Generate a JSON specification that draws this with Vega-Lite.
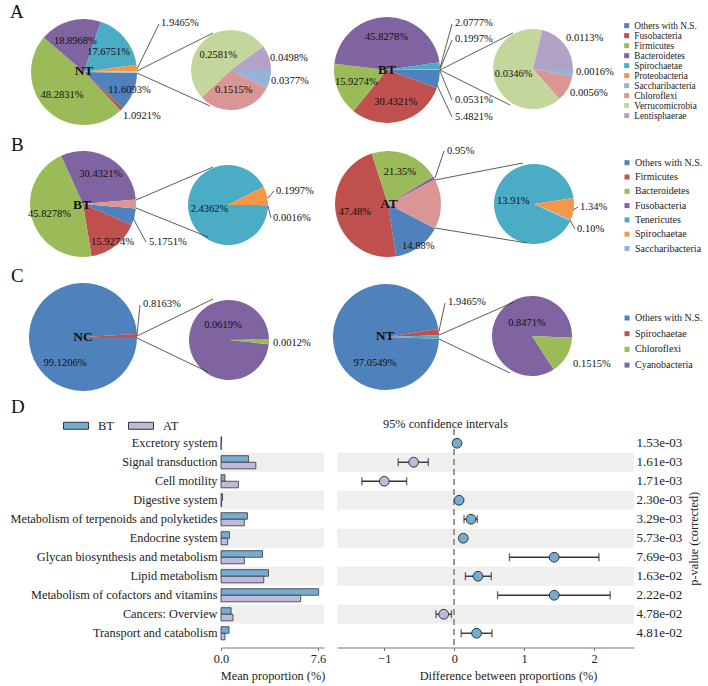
{
"$schema":"https://vega.github.io/schema/vega-lite/v6.json",
"padding":{"left":10,"top":0,"right":0,"bottom":0},
"background":"white",
"config":{"font":"Liberation Serif","view":{"stroke":null},"legend":{"labelFont":"Liberation Serif"}},
"datasets":{
"pies":[
{"pie":"A-NT","panel":"A","sample":"NT","taxon":"Others with N.S.","value":11.6093,"label":"11.6093%","k":0},
{"pie":"A-NT","panel":"A","sample":"NT","taxon":"Fusobacteria","value":1.0921,"label":"1.0921%","k":1},
{"pie":"A-NT","panel":"A","sample":"NT","taxon":"Firmicutes","value":48.2831,"label":"48.2831%","k":2},
{"pie":"A-NT","panel":"A","sample":"NT","taxon":"Bacteroidetes","value":18.8968,"label":"18.8968%","k":3},
{"pie":"A-NT","panel":"A","sample":"NT","taxon":"Spirochaetae","value":17.6751,"label":"17.6751%","k":4},
{"pie":"A-NT","panel":"A","sample":"NT","taxon":"Proteobacteria","value":1.9465,"label":"1.9465%","k":5},
{"pie":"A-NT","panel":"A","sample":"NT","taxon":"Other","value":0.4971,"label":"","k":6},
{"pie":"A-NT-sub","panel":"A","sample":"NT","taxon":"Saccharibacteria","value":0.0377,"label":"0.0377%","k":0},
{"pie":"A-NT-sub","panel":"A","sample":"NT","taxon":"Chloroflexi","value":0.1515,"label":"0.1515%","k":1},
{"pie":"A-NT-sub","panel":"A","sample":"NT","taxon":"Verrucomicrobia","value":0.2581,"label":"0.2581%","k":2},
{"pie":"A-NT-sub","panel":"A","sample":"NT","taxon":"Lentisphaerae","value":0.0498,"label":"0.0498%","k":3},
{"pie":"A-BT","panel":"A","sample":"BT","taxon":"Others with N.S.","value":5.4821,"label":"5.4821%","k":0},
{"pie":"A-BT","panel":"A","sample":"BT","taxon":"Fusobacteria","value":30.4321,"label":"30.4321%","k":1},
{"pie":"A-BT","panel":"A","sample":"BT","taxon":"Firmicutes","value":15.9274,"label":"15.9274%","k":2},
{"pie":"A-BT","panel":"A","sample":"BT","taxon":"Bacteroidetes","value":45.8278,"label":"45.8278%","k":3},
{"pie":"A-BT","panel":"A","sample":"BT","taxon":"Spirochaetae","value":2.0777,"label":"2.0777%","k":4},
{"pie":"A-BT","panel":"A","sample":"BT","taxon":"Proteobacteria","value":0.1997,"label":"0.1997%","k":5},
{"pie":"A-BT","panel":"A","sample":"BT","taxon":"Other","value":0.0531,"label":"0.0531%","k":6},
{"pie":"A-BT-sub","panel":"A","sample":"BT","taxon":"Saccharibacteria","value":0.0016,"label":"0.0016%","k":0},
{"pie":"A-BT-sub","panel":"A","sample":"BT","taxon":"Chloroflexi","value":0.0056,"label":"0.0056%","k":1},
{"pie":"A-BT-sub","panel":"A","sample":"BT","taxon":"Verrucomicrobia","value":0.0346,"label":"0.0346%","k":2},
{"pie":"A-BT-sub","panel":"A","sample":"BT","taxon":"Lentisphaerae","value":0.0113,"label":"0.0113%","k":3},
{"pie":"B-BT","panel":"B","sample":"BT","taxon":"Others with N.S.","value":5.1751,"label":"5.1751%","k":0},
{"pie":"B-BT","panel":"B","sample":"BT","taxon":"Firmicutes","value":15.9274,"label":"15.9274%","k":1},
{"pie":"B-BT","panel":"B","sample":"BT","taxon":"Bacteroidetes","value":45.8278,"label":"45.8278%","k":2},
{"pie":"B-BT","panel":"B","sample":"BT","taxon":"Fusobacteria","value":30.4321,"label":"30.4321%","k":3},
{"pie":"B-BT","panel":"B","sample":"BT","taxon":"Other","value":2.6375,"label":"","k":4},
{"pie":"B-BT-sub","panel":"B","sample":"BT","taxon":"Tenericutes","value":2.4362,"label":"2.4362%","k":0},
{"pie":"B-BT-sub","panel":"B","sample":"BT","taxon":"Spirochaetae","value":0.1997,"label":"0.1997%","k":1},
{"pie":"B-BT-sub","panel":"B","sample":"BT","taxon":"Saccharibacteria","value":0.0016,"label":"0.0016%","k":2},
{"pie":"B-AT","panel":"B","sample":"AT","taxon":"Others with N.S.","value":14.88,"label":"14.88%","k":0},
{"pie":"B-AT","panel":"B","sample":"AT","taxon":"Firmicutes","value":47.48,"label":"47.48%","k":1},
{"pie":"B-AT","panel":"B","sample":"AT","taxon":"Bacteroidetes","value":21.35,"label":"21.35%","k":2},
{"pie":"B-AT","panel":"B","sample":"AT","taxon":"Fusobacteria","value":0.95,"label":"0.95%","k":3},
{"pie":"B-AT","panel":"B","sample":"AT","taxon":"Other","value":15.35,"label":"","k":4},
{"pie":"B-AT-sub","panel":"B","sample":"AT","taxon":"Tenericutes","value":13.91,"label":"13.91%","k":0},
{"pie":"B-AT-sub","panel":"B","sample":"AT","taxon":"Spirochaetae","value":1.34,"label":"1.34%","k":1},
{"pie":"B-AT-sub","panel":"B","sample":"AT","taxon":"Saccharibacteria","value":0.10,"label":"0.10%","k":2},
{"pie":"C-NC","panel":"C","sample":"NC","taxon":"Others with N.S.","value":99.1206,"label":"99.1206%","k":0},
{"pie":"C-NC","panel":"C","sample":"NC","taxon":"Spirochaetae","value":0.8163,"label":"0.8163%","k":1},
{"pie":"C-NC","panel":"C","sample":"NC","taxon":"Other","value":0.0631,"label":"","k":2},
{"pie":"C-NC-sub","panel":"C","sample":"NC","taxon":"Cyanobacteria","value":0.0619,"label":"0.0619%","k":0},
{"pie":"C-NC-sub","panel":"C","sample":"NC","taxon":"Chloroflexi","value":0.0012,"label":"0.0012%","k":1},
{"pie":"C-NT","panel":"C","sample":"NT","taxon":"Others with N.S.","value":97.0549,"label":"97.0549%","k":0},
{"pie":"C-NT","panel":"C","sample":"NT","taxon":"Spirochaetae","value":1.9465,"label":"1.9465%","k":1},
{"pie":"C-NT","panel":"C","sample":"NT","taxon":"Other","value":0.9986,"label":"","k":2},
{"pie":"C-NT-sub","panel":"C","sample":"NT","taxon":"Cyanobacteria","value":0.8471,"label":"0.8471%","k":0},
{"pie":"C-NT-sub","panel":"C","sample":"NT","taxon":"Chloroflexi","value":0.1515,"label":"0.1515%","k":1}
],
"paths":[
{"pathway":"Excretory system","BT":0.05,"AT":0.01,"diff":0.04,"lo":0.02,"hi":0.06,"p":"1.53e-03","i":0},
{"pathway":"Signal transduction","BT":2.15,"AT":2.73,"diff":-0.58,"lo":-0.8,"hi":-0.37,"p":"1.61e-03","i":1},
{"pathway":"Cell motility","BT":0.31,"AT":1.36,"diff":-1.0,"lo":-1.32,"hi":-0.68,"p":"1.71e-03","i":2},
{"pathway":"Digestive system","BT":0.12,"AT":0.05,"diff":0.07,"lo":0.05,"hi":0.09,"p":"2.30e-03","i":3},
{"pathway":"Metabolism of terpenoids and polyketides","BT":2.07,"AT":1.83,"diff":0.24,"lo":0.14,"hi":0.33,"p":"3.29e-03","i":4},
{"pathway":"Endocrine system","BT":0.66,"AT":0.52,"diff":0.13,"lo":0.09,"hi":0.17,"p":"5.73e-03","i":5},
{"pathway":"Glycan biosynthesis and metabolism","BT":3.25,"AT":1.83,"diff":1.43,"lo":0.79,"hi":2.07,"p":"7.69e-03","i":6},
{"pathway":"Lipid metabolism","BT":3.72,"AT":3.35,"diff":0.34,"lo":0.16,"hi":0.53,"p":"1.63e-02","i":7},
{"pathway":"Metabolism of cofactors and vitamins","BT":7.65,"AT":6.24,"diff":1.43,"lo":0.62,"hi":2.23,"p":"2.22e-02","i":8},
{"pathway":"Cancers: Overview","BT":0.79,"AT":0.94,"diff":-0.15,"lo":-0.26,"hi":-0.04,"p":"4.78e-02","i":9},
{"pathway":"Transport and catabolism","BT":0.63,"AT":0.31,"diff":0.32,"lo":0.1,"hi":0.54,"p":"4.81e-02","i":10}
]
},
"spacing":0,
"vconcat":[
{
"width":487,"height":414,
"data":{"name":"pies"},
"resolve":{"scale":{"theta":"independent","color":"independent"},"legend":{"color":"independent"}},
"layer":[
{"transform":[{"filter":"datum.pie=='A-NT'"}],"mark":{"type":"arc","outerRadius":53},"encoding":{"x":{"datum":84,"type":"quantitative","axis":null,"scale":{"domain":[221,708],"nice":false,"zero":false}},"y":{"datum":72,"type":"quantitative","axis":null,"scale":{"domain":[414,0],"nice":false,"zero":false}},"theta":{"field":"value","type":"quantitative","stack":true,"scale":{"range":[1.5865,7.8697]}},"order":{"field":"k","type":"quantitative"},"color":{"field":"taxon","type":"nominal","scale":{"domain":["Others with N.S.","Fusobacteria","Firmicutes","Bacteroidetes","Spirochaetae","Proteobacteria","Saccharibacteria","Chloroflexi","Verrucomicrobia","Lentisphaerae","Other"],"range":["#4F81BD","#C0504D","#9BBB59","#8064A2","#4BACC6","#F79646","#95B3D7","#D99694","#C3D69B","#B3A2C7","#93CDDD"]},"legend":{"orient":"none","legendX":401,"legendY":21,"title":null,"values":["Others with N.S.","Fusobacteria","Firmicutes","Bacteroidetes","Spirochaetae","Proteobacteria","Saccharibacteria","Chloroflexi","Verrucomicrobia","Lentisphaerae"],"symbolType":"square","symbolSize":25,"symbolStrokeWidth":0,"labelFont":"Liberation Serif","labelFontSize":9.3,"labelColor":"#222","rowPadding":0,"labelOffset":3,"padding":0}}}},
{"transform":[{"filter":"datum.pie=='A-NT-sub'"}],"mark":{"type":"arc","outerRadius":40},"encoding":{"x":{"datum":231,"type":"quantitative","axis":null},"y":{"datum":70,"type":"quantitative","axis":null},"theta":{"field":"value","type":"quantitative","stack":true,"scale":{"range":[1.5708,7.8540]}},"order":{"field":"k","type":"quantitative"},"color":{"field":"taxon","type":"nominal","scale":{"domain":["Others with N.S.","Fusobacteria","Firmicutes","Bacteroidetes","Spirochaetae","Proteobacteria","Saccharibacteria","Chloroflexi","Verrucomicrobia","Lentisphaerae","Other"],"range":["#4F81BD","#C0504D","#9BBB59","#8064A2","#4BACC6","#F79646","#95B3D7","#D99694","#C3D69B","#B3A2C7","#93CDDD"]},"legend":null}}},
{"transform":[{"filter":"datum.pie=='A-BT'"}],"mark":{"type":"arc","outerRadius":53},"encoding":{"x":{"datum":387,"type":"quantitative","axis":null},"y":{"datum":70,"type":"quantitative","axis":null},"theta":{"field":"value","type":"quantitative","stack":true,"scale":{"range":[1.5725,7.8557]}},"order":{"field":"k","type":"quantitative"},"color":{"field":"taxon","type":"nominal","scale":{"domain":["Others with N.S.","Fusobacteria","Firmicutes","Bacteroidetes","Spirochaetae","Proteobacteria","Saccharibacteria","Chloroflexi","Verrucomicrobia","Lentisphaerae","Other"],"range":["#4F81BD","#C0504D","#9BBB59","#8064A2","#4BACC6","#F79646","#95B3D7","#D99694","#C3D69B","#B3A2C7","#93CDDD"]},"legend":null}}},
{"transform":[{"filter":"datum.pie=='A-BT-sub'"}],"mark":{"type":"arc","outerRadius":40},"encoding":{"x":{"datum":533,"type":"quantitative","axis":null},"y":{"datum":69,"type":"quantitative","axis":null},"theta":{"field":"value","type":"quantitative","stack":true,"scale":{"range":[1.5708,7.8540]}},"order":{"field":"k","type":"quantitative"},"color":{"field":"taxon","type":"nominal","scale":{"domain":["Others with N.S.","Fusobacteria","Firmicutes","Bacteroidetes","Spirochaetae","Proteobacteria","Saccharibacteria","Chloroflexi","Verrucomicrobia","Lentisphaerae","Other"],"range":["#4F81BD","#C0504D","#9BBB59","#8064A2","#4BACC6","#F79646","#95B3D7","#D99694","#C3D69B","#B3A2C7","#93CDDD"]},"legend":null}}},
{"transform":[{"filter":"datum.pie=='B-BT'"}],"mark":{"type":"arc","outerRadius":53},"encoding":{"x":{"datum":83,"type":"quantitative","axis":null},"y":{"datum":204,"type":"quantitative","axis":null},"theta":{"field":"value","type":"quantitative","stack":true,"scale":{"range":[1.6537,7.9369]}},"order":{"field":"k","type":"quantitative"},"color":{"field":"taxon","type":"nominal","scale":{"domain":["Others with N.S.","Firmicutes","Bacteroidetes","Fusobacteria","Tenericutes","Spirochaetae","Saccharibacteria","Other"],"range":["#4F81BD","#C0504D","#9BBB59","#8064A2","#4BACC6","#F79646","#95B3D7","#D99694"]},"legend":{"orient":"none","legendX":401,"legendY":157.7,"title":null,"values":["Others with N.S.","Firmicutes","Bacteroidetes","Fusobacteria","Tenericutes","Spirochaetae","Saccharibacteria"],"symbolType":"square","symbolSize":25,"symbolStrokeWidth":0,"labelFont":"Liberation Serif","labelFontSize":10,"labelColor":"#222","rowPadding":4.3,"labelOffset":3,"padding":0}}}},
{"transform":[{"filter":"datum.pie=='B-BT-sub'"}],"mark":{"type":"arc","outerRadius":40},"encoding":{"x":{"datum":228,"type":"quantitative","axis":null},"y":{"datum":205,"type":"quantitative","axis":null},"theta":{"field":"value","type":"quantitative","stack":true,"scale":{"range":[1.5743,7.8575]}},"order":{"field":"k","type":"quantitative"},"color":{"field":"taxon","type":"nominal","scale":{"domain":["Others with N.S.","Firmicutes","Bacteroidetes","Fusobacteria","Tenericutes","Spirochaetae","Saccharibacteria","Other"],"range":["#4F81BD","#C0504D","#9BBB59","#8064A2","#4BACC6","#F79646","#95B3D7","#D99694"]},"legend":null}}},
{"transform":[{"filter":"datum.pie=='B-AT'"}],"mark":{"type":"arc","outerRadius":53},"encoding":{"x":{"datum":388,"type":"quantitative","axis":null},"y":{"datum":204,"type":"quantitative","axis":null},"theta":{"field":"value","type":"quantitative","stack":true,"scale":{"range":[2.0525,8.3357]}},"order":{"field":"k","type":"quantitative"},"color":{"field":"taxon","type":"nominal","scale":{"domain":["Others with N.S.","Firmicutes","Bacteroidetes","Fusobacteria","Tenericutes","Spirochaetae","Saccharibacteria","Other"],"range":["#4F81BD","#C0504D","#9BBB59","#8064A2","#4BACC6","#F79646","#95B3D7","#D99694"]},"legend":null}}},
{"transform":[{"filter":"datum.pie=='B-AT-sub'"}],"mark":{"type":"arc","outerRadius":40},"encoding":{"x":{"datum":534,"type":"quantitative","axis":null},"y":{"datum":204,"type":"quantitative","axis":null},"theta":{"field":"value","type":"quantitative","stack":true,"scale":{"range":[2.0071,8.2903]}},"order":{"field":"k","type":"quantitative"},"color":{"field":"taxon","type":"nominal","scale":{"domain":["Others with N.S.","Firmicutes","Bacteroidetes","Fusobacteria","Tenericutes","Spirochaetae","Saccharibacteria","Other"],"range":["#4F81BD","#C0504D","#9BBB59","#8064A2","#4BACC6","#F79646","#95B3D7","#D99694"]},"legend":null}}},
{"transform":[{"filter":"datum.pie=='C-NC'"}],"mark":{"type":"arc","outerRadius":54},"encoding":{"x":{"datum":83,"type":"quantitative","axis":null},"y":{"datum":337,"type":"quantitative","axis":null},"theta":{"field":"value","type":"quantitative","stack":true,"scale":{"range":[1.5725,7.8557]}},"order":{"field":"k","type":"quantitative"},"color":{"field":"taxon","type":"nominal","scale":{"domain":["Others with N.S.","Spirochaetae","Chloroflexi","Cyanobacteria","Other"],"range":["#4F81BD","#C0504D","#9BBB59","#8064A2","#4BACC6"]},"legend":{"orient":"none","legendX":401,"legendY":313,"title":null,"values":["Others with N.S.","Spirochaetae","Chloroflexi","Cyanobacteria"],"symbolType":"square","symbolSize":25,"symbolStrokeWidth":0,"labelFont":"Liberation Serif","labelFontSize":10,"labelColor":"#222","rowPadding":5.7,"labelOffset":3,"padding":0}}}},
{"transform":[{"filter":"datum.pie=='C-NC-sub'"}],"mark":{"type":"arc","outerRadius":40},"encoding":{"x":{"datum":229,"type":"quantitative","axis":null},"y":{"datum":340,"type":"quantitative","axis":null},"theta":{"field":"value","type":"quantitative","stack":true,"scale":{"range":[1.6755,7.9587]}},"order":{"field":"k","type":"quantitative"},"color":{"field":"taxon","type":"nominal","scale":{"domain":["Others with N.S.","Spirochaetae","Chloroflexi","Cyanobacteria","Other"],"range":["#4F81BD","#C0504D","#9BBB59","#8064A2","#4BACC6"]},"legend":null}}},
{"transform":[{"filter":"datum.pie=='C-NT'"}],"mark":{"type":"arc","outerRadius":53},"encoding":{"x":{"datum":386,"type":"quantitative","axis":null},"y":{"datum":337,"type":"quantitative","axis":null},"theta":{"field":"value","type":"quantitative","stack":true,"scale":{"range":[1.6022,7.8854]}},"order":{"field":"k","type":"quantitative"},"color":{"field":"taxon","type":"nominal","scale":{"domain":["Others with N.S.","Spirochaetae","Chloroflexi","Cyanobacteria","Other"],"range":["#4F81BD","#C0504D","#9BBB59","#8064A2","#4BACC6"]},"legend":null}}},
{"transform":[{"filter":"datum.pie=='C-NT-sub'"}],"mark":{"type":"arc","outerRadius":40},"encoding":{"x":{"datum":532,"type":"quantitative","axis":null},"y":{"datum":336,"type":"quantitative","axis":null},"theta":{"field":"value","type":"quantitative","stack":true,"scale":{"range":[2.5656,8.8488]}},"order":{"field":"k","type":"quantitative"},"color":{"field":"taxon","type":"nominal","scale":{"domain":["Others with N.S.","Spirochaetae","Chloroflexi","Cyanobacteria","Other"],"range":["#4F81BD","#C0504D","#9BBB59","#8064A2","#4BACC6"]},"legend":null}}},

{"transform":[{"filter":"datum.pie=='A-NT'"}],"mark":{"type":"text","radius":32,"fontSize":10.5,"color":"#111"},"encoding":{"x":{"datum":84,"type":"quantitative","axis":null},"y":{"datum":72,"type":"quantitative","axis":null},"theta":{"field":"value","type":"quantitative","stack":true,"scale":{"range":[1.5865,7.8697]}},"order":{"field":"k","type":"quantitative"},"text":{"condition":{"test":"datum.k>=2&&datum.k<=4","field":"label"},"value":""}}},
{"transform":[{"filter":"datum.pie=='A-NT'"}],"mark":{"type":"text","radius":49,"fontSize":10.5,"color":"#111"},"encoding":{"x":{"datum":84,"type":"quantitative","axis":null},"y":{"datum":72,"type":"quantitative","axis":null},"theta":{"field":"value","type":"quantitative","stack":true,"scale":{"range":[1.5865,7.8697]}},"order":{"field":"k","type":"quantitative"},"text":{"condition":{"test":"datum.k==0","field":"label"},"value":""}}},
{"transform":[{"filter":"datum.pie=='A-NT-sub'"}],"mark":{"type":"text","radius":20,"fontSize":10.5,"color":"#111"},"encoding":{"x":{"datum":231,"type":"quantitative","axis":null},"y":{"datum":70,"type":"quantitative","axis":null},"theta":{"field":"value","type":"quantitative","stack":true,"scale":{"range":[1.5708,7.8540]}},"order":{"field":"k","type":"quantitative"},"text":{"condition":{"test":"datum.k==1||datum.k==2","field":"label"},"value":""}}},
{"transform":[{"filter":"datum.pie=='A-BT'"}],"mark":{"type":"text","radius":33,"fontSize":10.5,"color":"#111"},"encoding":{"x":{"datum":387,"type":"quantitative","axis":null},"y":{"datum":70,"type":"quantitative","axis":null},"theta":{"field":"value","type":"quantitative","stack":true,"scale":{"range":[1.5725,7.8557]}},"order":{"field":"k","type":"quantitative"},"text":{"condition":{"test":"datum.k>=1&&datum.k<=3","field":"label"},"value":""}}},
{"transform":[{"filter":"datum.pie=='A-BT-sub'"}],"mark":{"type":"text","radius":20,"fontSize":10.5,"color":"#111"},"encoding":{"x":{"datum":533,"type":"quantitative","axis":null},"y":{"datum":69,"type":"quantitative","axis":null},"theta":{"field":"value","type":"quantitative","stack":true,"scale":{"range":[1.5708,7.8540]}},"order":{"field":"k","type":"quantitative"},"text":{"condition":{"test":"datum.k==2","field":"label"},"value":""}}},
{"transform":[{"filter":"datum.pie=='B-BT'"}],"mark":{"type":"text","radius":35,"fontSize":10.5,"color":"#111"},"encoding":{"x":{"datum":83,"type":"quantitative","axis":null},"y":{"datum":204,"type":"quantitative","axis":null},"theta":{"field":"value","type":"quantitative","stack":true,"scale":{"range":[1.6537,7.9369]}},"order":{"field":"k","type":"quantitative"},"text":{"condition":{"test":"datum.k==2||datum.k==3","field":"label"},"value":""}}},
{"transform":[{"filter":"datum.pie=='B-BT'"}],"mark":{"type":"text","radius":48,"fontSize":10.5,"color":"#111"},"encoding":{"x":{"datum":83,"type":"quantitative","axis":null},"y":{"datum":204,"type":"quantitative","axis":null},"theta":{"field":"value","type":"quantitative","stack":true,"scale":{"range":[1.6537,7.9369]}},"order":{"field":"k","type":"quantitative"},"text":{"condition":{"test":"datum.k==1","field":"label"},"value":""}}},
{"transform":[{"filter":"datum.pie=='B-BT-sub'"}],"mark":{"type":"text","radius":19,"fontSize":10.5,"color":"#111"},"encoding":{"x":{"datum":228,"type":"quantitative","axis":null},"y":{"datum":205,"type":"quantitative","axis":null},"theta":{"field":"value","type":"quantitative","stack":true,"scale":{"range":[1.5743,7.8575]}},"order":{"field":"k","type":"quantitative"},"text":{"condition":{"test":"datum.k==0","field":"label"},"value":""}}},
{"transform":[{"filter":"datum.pie=='B-AT'"}],"mark":{"type":"text","radius":34,"fontSize":10.5,"color":"#111"},"encoding":{"x":{"datum":388,"type":"quantitative","axis":null},"y":{"datum":204,"type":"quantitative","axis":null},"theta":{"field":"value","type":"quantitative","stack":true,"scale":{"range":[2.0525,8.3357]}},"order":{"field":"k","type":"quantitative"},"text":{"condition":{"test":"datum.k==1||datum.k==2","field":"label"},"value":""}}},
{"transform":[{"filter":"datum.pie=='B-AT'"}],"mark":{"type":"text","radius":52,"fontSize":10.5,"color":"#111"},"encoding":{"x":{"datum":388,"type":"quantitative","axis":null},"y":{"datum":204,"type":"quantitative","axis":null},"theta":{"field":"value","type":"quantitative","stack":true,"scale":{"range":[2.0525,8.3357]}},"order":{"field":"k","type":"quantitative"},"text":{"condition":{"test":"datum.k==0","field":"label"},"value":""}}},
{"transform":[{"filter":"datum.pie=='B-AT-sub'"}],"mark":{"type":"text","radius":21,"fontSize":10.5,"color":"#111"},"encoding":{"x":{"datum":534,"type":"quantitative","axis":null},"y":{"datum":204,"type":"quantitative","axis":null},"theta":{"field":"value","type":"quantitative","stack":true,"scale":{"range":[2.0071,8.2903]}},"order":{"field":"k","type":"quantitative"},"text":{"condition":{"test":"datum.k==0","field":"label"},"value":""}}},

{"transform":[{"filter":"datum.pie=='A-NT'&&datum.k==5"}],"mark":{"type":"text","align":"left","fontSize":10.5,"color":"#111"},"encoding":{"x":{"datum":161,"type":"quantitative","axis":null},"y":{"datum":23,"type":"quantitative","axis":null},"text":{"field":"label"}}},
{"transform":[{"filter":"datum.pie=='A-NT'&&datum.k==1"}],"mark":{"type":"text","align":"left","fontSize":10.5,"color":"#111"},"encoding":{"x":{"datum":123,"type":"quantitative","axis":null},"y":{"datum":116,"type":"quantitative","axis":null},"text":{"field":"label"}}},
{"transform":[{"filter":"datum.pie=='A-NT-sub'&&datum.k==3"}],"mark":{"type":"text","align":"left","fontSize":10.5,"color":"#111"},"encoding":{"x":{"datum":270,"type":"quantitative","axis":null},"y":{"datum":58,"type":"quantitative","axis":null},"text":{"field":"label"}}},
{"transform":[{"filter":"datum.pie=='A-NT-sub'&&datum.k==0"}],"mark":{"type":"text","align":"left","fontSize":10.5,"color":"#111"},"encoding":{"x":{"datum":271,"type":"quantitative","axis":null},"y":{"datum":81,"type":"quantitative","axis":null},"text":{"field":"label"}}},
{"transform":[{"filter":"datum.pie=='A-BT'&&datum.k==4"}],"mark":{"type":"text","align":"left","fontSize":10.5,"color":"#111"},"encoding":{"x":{"datum":455,"type":"quantitative","axis":null},"y":{"datum":23,"type":"quantitative","axis":null},"text":{"field":"label"}}},
{"transform":[{"filter":"datum.pie=='A-BT'&&datum.k==5"}],"mark":{"type":"text","align":"left","fontSize":10.5,"color":"#111"},"encoding":{"x":{"datum":455,"type":"quantitative","axis":null},"y":{"datum":39,"type":"quantitative","axis":null},"text":{"field":"label"}}},
{"transform":[{"filter":"datum.pie=='A-BT'&&datum.k==6"}],"mark":{"type":"text","align":"left","fontSize":10.5,"color":"#111"},"encoding":{"x":{"datum":455,"type":"quantitative","axis":null},"y":{"datum":100,"type":"quantitative","axis":null},"text":{"field":"label"}}},
{"transform":[{"filter":"datum.pie=='A-BT'&&datum.k==0"}],"mark":{"type":"text","align":"left","fontSize":10.5,"color":"#111"},"encoding":{"x":{"datum":455,"type":"quantitative","axis":null},"y":{"datum":117,"type":"quantitative","axis":null},"text":{"field":"label"}}},
{"transform":[{"filter":"datum.pie=='A-BT-sub'&&datum.k==3"}],"mark":{"type":"text","align":"left","fontSize":10.5,"color":"#111"},"encoding":{"x":{"datum":566,"type":"quantitative","axis":null},"y":{"datum":38,"type":"quantitative","axis":null},"text":{"field":"label"}}},
{"transform":[{"filter":"datum.pie=='A-BT-sub'&&datum.k==0"}],"mark":{"type":"text","align":"left","fontSize":10.5,"color":"#111"},"encoding":{"x":{"datum":576,"type":"quantitative","axis":null},"y":{"datum":72,"type":"quantitative","axis":null},"text":{"field":"label"}}},
{"transform":[{"filter":"datum.pie=='A-BT-sub'&&datum.k==1"}],"mark":{"type":"text","align":"left","fontSize":10.5,"color":"#111"},"encoding":{"x":{"datum":570,"type":"quantitative","axis":null},"y":{"datum":93,"type":"quantitative","axis":null},"text":{"field":"label"}}},
{"transform":[{"filter":"datum.pie=='B-BT'&&datum.k==0"}],"mark":{"type":"text","align":"left","fontSize":10.5,"color":"#111"},"encoding":{"x":{"datum":149,"type":"quantitative","axis":null},"y":{"datum":242,"type":"quantitative","axis":null},"text":{"field":"label"}}},
{"transform":[{"filter":"datum.pie=='B-BT-sub'&&datum.k==1"}],"mark":{"type":"text","align":"left","fontSize":10.5,"color":"#111"},"encoding":{"x":{"datum":276,"type":"quantitative","axis":null},"y":{"datum":191,"type":"quantitative","axis":null},"text":{"field":"label"}}},
{"transform":[{"filter":"datum.pie=='B-BT-sub'&&datum.k==2"}],"mark":{"type":"text","align":"left","fontSize":10.5,"color":"#111"},"encoding":{"x":{"datum":273,"type":"quantitative","axis":null},"y":{"datum":218,"type":"quantitative","axis":null},"text":{"field":"label"}}},
{"transform":[{"filter":"datum.pie=='B-AT'&&datum.k==3"}],"mark":{"type":"text","align":"left","fontSize":10.5,"color":"#111"},"encoding":{"x":{"datum":447,"type":"quantitative","axis":null},"y":{"datum":151,"type":"quantitative","axis":null},"text":{"field":"label"}}},
{"transform":[{"filter":"datum.pie=='B-AT-sub'&&datum.k==1"}],"mark":{"type":"text","align":"left","fontSize":10.5,"color":"#111"},"encoding":{"x":{"datum":580,"type":"quantitative","axis":null},"y":{"datum":207,"type":"quantitative","axis":null},"text":{"field":"label"}}},
{"transform":[{"filter":"datum.pie=='B-AT-sub'&&datum.k==2"}],"mark":{"type":"text","align":"left","fontSize":10.5,"color":"#111"},"encoding":{"x":{"datum":577,"type":"quantitative","axis":null},"y":{"datum":229,"type":"quantitative","axis":null},"text":{"field":"label"}}},
{"transform":[{"filter":"datum.pie=='C-NC'&&datum.k==0"}],"mark":{"type":"text","fontSize":10.5,"color":"#111"},"encoding":{"x":{"datum":65,"type":"quantitative","axis":null},"y":{"datum":363,"type":"quantitative","axis":null},"text":{"field":"label"}}},
{"transform":[{"filter":"datum.pie=='C-NC'&&datum.k==1"}],"mark":{"type":"text","align":"left","fontSize":10.5,"color":"#111"},"encoding":{"x":{"datum":143,"type":"quantitative","axis":null},"y":{"datum":304,"type":"quantitative","axis":null},"text":{"field":"label"}}},
{"transform":[{"filter":"datum.pie=='C-NC-sub'&&datum.k==0"}],"mark":{"type":"text","fontSize":10.5,"color":"#111"},"encoding":{"x":{"datum":223,"type":"quantitative","axis":null},"y":{"datum":325,"type":"quantitative","axis":null},"text":{"field":"label"}}},
{"transform":[{"filter":"datum.pie=='C-NC-sub'&&datum.k==1"}],"mark":{"type":"text","align":"left","fontSize":10.5,"color":"#111"},"encoding":{"x":{"datum":273,"type":"quantitative","axis":null},"y":{"datum":343,"type":"quantitative","axis":null},"text":{"field":"label"}}},
{"transform":[{"filter":"datum.pie=='C-NT'&&datum.k==0"}],"mark":{"type":"text","fontSize":10.5,"color":"#111"},"encoding":{"x":{"datum":375,"type":"quantitative","axis":null},"y":{"datum":363,"type":"quantitative","axis":null},"text":{"field":"label"}}},
{"transform":[{"filter":"datum.pie=='C-NT'&&datum.k==1"}],"mark":{"type":"text","align":"left","fontSize":10.5,"color":"#111"},"encoding":{"x":{"datum":448,"type":"quantitative","axis":null},"y":{"datum":302,"type":"quantitative","axis":null},"text":{"field":"label"}}},
{"transform":[{"filter":"datum.pie=='C-NT-sub'&&datum.k==0"}],"mark":{"type":"text","fontSize":10.5,"color":"#111"},"encoding":{"x":{"datum":527,"type":"quantitative","axis":null},"y":{"datum":323,"type":"quantitative","axis":null},"text":{"field":"label"}}},
{"transform":[{"filter":"datum.pie=='C-NT-sub'&&datum.k==1"}],"mark":{"type":"text","align":"left","fontSize":10.5,"color":"#111"},"encoding":{"x":{"datum":573,"type":"quantitative","axis":null},"y":{"datum":364,"type":"quantitative","axis":null},"text":{"field":"label"}}},

{"transform":[{"filter":"datum.pie=='A-NT'&&datum.k==0"}],"mark":{"type":"rule","color":"#333","strokeWidth":0.8},"encoding":{"x":{"datum":137,"type":"quantitative","axis":null},"y":{"datum":71,"type":"quantitative","axis":null},"x2":{"datum":213},"y2":{"datum":33}}},
{"transform":[{"filter":"datum.pie=='A-NT'&&datum.k==0"}],"mark":{"type":"rule","color":"#333","strokeWidth":0.8},"encoding":{"x":{"datum":137,"type":"quantitative","axis":null},"y":{"datum":73,"type":"quantitative","axis":null},"x2":{"datum":210},"y2":{"datum":106}}},
{"transform":[{"filter":"datum.pie=='A-NT'&&datum.k==0"}],"mark":{"type":"rule","color":"#333","strokeWidth":0.8},"encoding":{"x":{"datum":440,"type":"quantitative","axis":null},"y":{"datum":70,"type":"quantitative","axis":null},"x2":{"datum":513},"y2":{"datum":33}}},
{"transform":[{"filter":"datum.pie=='A-NT'&&datum.k==0"}],"mark":{"type":"rule","color":"#333","strokeWidth":0.8},"encoding":{"x":{"datum":440,"type":"quantitative","axis":null},"y":{"datum":70,"type":"quantitative","axis":null},"x2":{"datum":510},"y2":{"datum":105}}},
{"transform":[{"filter":"datum.pie=='A-NT'&&datum.k==0"}],"mark":{"type":"rule","color":"#333","strokeWidth":0.8},"encoding":{"x":{"datum":136,"type":"quantitative","axis":null},"y":{"datum":200,"type":"quantitative","axis":null},"x2":{"datum":213},"y2":{"datum":167}}},
{"transform":[{"filter":"datum.pie=='A-NT'&&datum.k==0"}],"mark":{"type":"rule","color":"#333","strokeWidth":0.8},"encoding":{"x":{"datum":136,"type":"quantitative","axis":null},"y":{"datum":208,"type":"quantitative","axis":null},"x2":{"datum":208},"y2":{"datum":237}}},
{"transform":[{"filter":"datum.pie=='A-NT'&&datum.k==0"}],"mark":{"type":"rule","color":"#333","strokeWidth":0.8},"encoding":{"x":{"datum":435,"type":"quantitative","axis":null},"y":{"datum":180,"type":"quantitative","axis":null},"x2":{"datum":523},"y2":{"datum":163}}},
{"transform":[{"filter":"datum.pie=='A-NT'&&datum.k==0"}],"mark":{"type":"rule","color":"#333","strokeWidth":0.8},"encoding":{"x":{"datum":435,"type":"quantitative","axis":null},"y":{"datum":228,"type":"quantitative","axis":null},"x2":{"datum":527},"y2":{"datum":243}}},
{"transform":[{"filter":"datum.pie=='A-NT'&&datum.k==0"}],"mark":{"type":"rule","color":"#333","strokeWidth":0.8},"encoding":{"x":{"datum":137,"type":"quantitative","axis":null},"y":{"datum":336,"type":"quantitative","axis":null},"x2":{"datum":213},"y2":{"datum":299}}},
{"transform":[{"filter":"datum.pie=='A-NT'&&datum.k==0"}],"mark":{"type":"rule","color":"#333","strokeWidth":0.8},"encoding":{"x":{"datum":137,"type":"quantitative","axis":null},"y":{"datum":338,"type":"quantitative","axis":null},"x2":{"datum":208},"y2":{"datum":372}}},
{"transform":[{"filter":"datum.pie=='A-NT'&&datum.k==0"}],"mark":{"type":"rule","color":"#333","strokeWidth":0.8},"encoding":{"x":{"datum":439,"type":"quantitative","axis":null},"y":{"datum":335,"type":"quantitative","axis":null},"x2":{"datum":514},"y2":{"datum":302}}},
{"transform":[{"filter":"datum.pie=='A-NT'&&datum.k==0"}],"mark":{"type":"rule","color":"#333","strokeWidth":0.8},"encoding":{"x":{"datum":439,"type":"quantitative","axis":null},"y":{"datum":339,"type":"quantitative","axis":null},"x2":{"datum":510},"y2":{"datum":373}}},
{"transform":[{"filter":"datum.pie=='A-NT'&&datum.k==0"}],"mark":{"type":"rule","color":"#333","strokeWidth":0.8},"encoding":{"x":{"datum":137,"type":"quantitative","axis":null},"y":{"datum":69,"type":"quantitative","axis":null},"x2":{"datum":159},"y2":{"datum":24}}},
{"transform":[{"filter":"datum.pie=='A-NT'&&datum.k==0"}],"mark":{"type":"rule","color":"#333","strokeWidth":0.8},"encoding":{"x":{"datum":440,"type":"quantitative","axis":null},"y":{"datum":68,"type":"quantitative","axis":null},"x2":{"datum":452},"y2":{"datum":24}}},
{"transform":[{"filter":"datum.pie=='A-NT'&&datum.k==0"}],"mark":{"type":"rule","color":"#333","strokeWidth":0.8},"encoding":{"x":{"datum":440,"type":"quantitative","axis":null},"y":{"datum":69,"type":"quantitative","axis":null},"x2":{"datum":452},"y2":{"datum":40}}},
{"transform":[{"filter":"datum.pie=='A-NT'&&datum.k==0"}],"mark":{"type":"rule","color":"#333","strokeWidth":0.8},"encoding":{"x":{"datum":440,"type":"quantitative","axis":null},"y":{"datum":71,"type":"quantitative","axis":null},"x2":{"datum":452},"y2":{"datum":100}}},
{"transform":[{"filter":"datum.pie=='A-NT'&&datum.k==0"}],"mark":{"type":"rule","color":"#333","strokeWidth":0.8},"encoding":{"x":{"datum":437,"type":"quantitative","axis":null},"y":{"datum":85,"type":"quantitative","axis":null},"x2":{"datum":452},"y2":{"datum":117}}},
{"transform":[{"filter":"datum.pie=='A-NT'&&datum.k==0"}],"mark":{"type":"rule","color":"#333","strokeWidth":0.8},"encoding":{"x":{"datum":133,"type":"quantitative","axis":null},"y":{"datum":218,"type":"quantitative","axis":null},"x2":{"datum":146},"y2":{"datum":242}}},
{"transform":[{"filter":"datum.pie=='A-NT'&&datum.k==0"}],"mark":{"type":"rule","color":"#333","strokeWidth":0.8},"encoding":{"x":{"datum":268,"type":"quantitative","axis":null},"y":{"datum":198,"type":"quantitative","axis":null},"x2":{"datum":274},"y2":{"datum":191}}},
{"transform":[{"filter":"datum.pie=='A-NT'&&datum.k==0"}],"mark":{"type":"rule","color":"#333","strokeWidth":0.8},"encoding":{"x":{"datum":268,"type":"quantitative","axis":null},"y":{"datum":206,"type":"quantitative","axis":null},"x2":{"datum":271},"y2":{"datum":218}}},
{"transform":[{"filter":"datum.pie=='A-NT'&&datum.k==0"}],"mark":{"type":"rule","color":"#333","strokeWidth":0.8},"encoding":{"x":{"datum":435,"type":"quantitative","axis":null},"y":{"datum":178,"type":"quantitative","axis":null},"x2":{"datum":444},"y2":{"datum":151}}},
{"transform":[{"filter":"datum.pie=='A-NT'&&datum.k==0"}],"mark":{"type":"rule","color":"#333","strokeWidth":0.8},"encoding":{"x":{"datum":573,"type":"quantitative","axis":null},"y":{"datum":210,"type":"quantitative","axis":null},"x2":{"datum":578},"y2":{"datum":207}}},
{"transform":[{"filter":"datum.pie=='A-NT'&&datum.k==0"}],"mark":{"type":"rule","color":"#333","strokeWidth":0.8},"encoding":{"x":{"datum":570,"type":"quantitative","axis":null},"y":{"datum":220,"type":"quantitative","axis":null},"x2":{"datum":575},"y2":{"datum":229}}},
{"transform":[{"filter":"datum.pie=='A-NT'&&datum.k==0"}],"mark":{"type":"rule","color":"#333","strokeWidth":0.8},"encoding":{"x":{"datum":137,"type":"quantitative","axis":null},"y":{"datum":335,"type":"quantitative","axis":null},"x2":{"datum":140},"y2":{"datum":305}}},
{"transform":[{"filter":"datum.pie=='A-NT'&&datum.k==0"}],"mark":{"type":"rule","color":"#333","strokeWidth":0.8},"encoding":{"x":{"datum":439,"type":"quantitative","axis":null},"y":{"datum":331,"type":"quantitative","axis":null},"x2":{"datum":445},"y2":{"datum":303}}},

{"transform":[{"filter":"datum.pie=='A-NT'&&datum.k==0"}],"mark":{"type":"text","fontSize":13.5,"fontWeight":"bold","color":"#111"},"encoding":{"x":{"datum":84,"type":"quantitative","axis":null},"y":{"datum":71,"type":"quantitative","axis":null},"text":{"field":"sample"}}},
{"transform":[{"filter":"datum.pie=='A-BT'&&datum.k==0"}],"mark":{"type":"text","fontSize":13.5,"fontWeight":"bold","color":"#111"},"encoding":{"x":{"datum":387,"type":"quantitative","axis":null},"y":{"datum":70,"type":"quantitative","axis":null},"text":{"field":"sample"}}},
{"transform":[{"filter":"datum.pie=='B-BT'&&datum.k==0"}],"mark":{"type":"text","fontSize":13.5,"fontWeight":"bold","color":"#111"},"encoding":{"x":{"datum":82,"type":"quantitative","axis":null},"y":{"datum":205,"type":"quantitative","axis":null},"text":{"field":"sample"}}},
{"transform":[{"filter":"datum.pie=='B-AT'&&datum.k==0"}],"mark":{"type":"text","fontSize":13.5,"fontWeight":"bold","color":"#111"},"encoding":{"x":{"datum":389,"type":"quantitative","axis":null},"y":{"datum":204,"type":"quantitative","axis":null},"text":{"field":"sample"}}},
{"transform":[{"filter":"datum.pie=='C-NC'&&datum.k==0"}],"mark":{"type":"text","fontSize":13.5,"fontWeight":"bold","color":"#111"},"encoding":{"x":{"datum":83,"type":"quantitative","axis":null},"y":{"datum":337,"type":"quantitative","axis":null},"text":{"field":"sample"}}},
{"transform":[{"filter":"datum.pie=='C-NT'&&datum.k==0"}],"mark":{"type":"text","fontSize":13.5,"fontWeight":"bold","color":"#111"},"encoding":{"x":{"datum":385,"type":"quantitative","axis":null},"y":{"datum":336,"type":"quantitative","axis":null},"text":{"field":"sample"}}},

{"transform":[{"filter":"datum.pie=='A-NT'&&datum.k==0"}],"mark":{"type":"text","align":"left","fontSize":19,"color":"#111"},"encoding":{"x":{"datum":10,"type":"quantitative","axis":null},"y":{"datum":12,"type":"quantitative","axis":null},"text":{"field":"panel"}}},
{"transform":[{"filter":"datum.pie=='B-BT'&&datum.k==0"}],"mark":{"type":"text","align":"left","fontSize":19,"color":"#111"},"encoding":{"x":{"datum":11,"type":"quantitative","axis":null},"y":{"datum":145,"type":"quantitative","axis":null},"text":{"field":"panel"}}},
{"transform":[{"filter":"datum.pie=='C-NC'&&datum.k==0"}],"mark":{"type":"text","align":"left","fontSize":19,"color":"#111"},"encoding":{"x":{"datum":11,"type":"quantitative","axis":null},"y":{"datum":276,"type":"quantitative","axis":null},"text":{"field":"panel"}}},
{"data":{"name":"paths"},"transform":[{"filter":"datum.i==0"}],"mark":{"type":"text","align":"left","fontSize":19,"color":"#111"},"encoding":{"x":{"datum":11,"type":"quantitative","axis":null},"y":{"datum":407,"type":"quantitative","axis":null},"text":{"value":"D"}}}
]
},
{
"spacing":11,
"hconcat":[
{
"width":103,"height":218.5,
"data":{"name":"paths"},
"encoding":{"y":{"field":"pathway","type":"nominal","scale":{"domain":["Excretory system","Signal transduction","Cell motility","Digestive system","Metabolism of terpenoids and polyketides","Endocrine system","Glycan biosynthesis and metabolism","Lipid metabolism","Metabolism of cofactors and vitamins","Cancers: Overview","Transport and catabolism"],"paddingInner":0,"paddingOuter":0.25},"axis":{"title":null,"ticks":false,"domain":false,"labelFontSize":12.3,"labelColor":"#222","labelPadding":4,"labelLimit":400}}},
"layer":[
{"transform":[{"filter":"datum.i%2==1"}],"mark":{"type":"rect","color":"#EFEFEF"},"encoding":{}},
{"transform":[{"fold":["BT","AT"],"as":["group","mean"]}],"mark":{"type":"bar","stroke":"#333","strokeWidth":0.8},"encoding":{
"x":{"field":"mean","type":"quantitative","scale":{"domain":[0,8.07],"nice":false},"axis":{"values":[0,7.6],"format":".1f","labelFlush":false,"title":"Mean proportion (%)","titleFontWeight":"normal","titleFontSize":12.3,"titleColor":"#222","titlePadding":5,"labelFontSize":12.3,"labelColor":"#222","domainColor":"#777","tickColor":"#777","tickSize":3,"labelPadding":2,"grid":false}},
"yOffset":{"field":"group","type":"nominal","sort":["BT","AT"],"scale":{"paddingInner":0,"paddingOuter":0.45}},
"fill":{"field":"group","type":"nominal","scale":{"domain":["BT","AT"],"range":["#74ADD1","#BEBADA"]},"legend":{"orient":"none","legendX":-158,"legendY":412.5,"direction":"horizontal","title":null,"symbolType":"M-1,-0.28H1V0.28H-1Z","symbolSize":625,"symbolStrokeColor":"#333","symbolStrokeWidth":1,"labelFont":"Liberation Serif","labelFontSize":12.5,"labelColor":"#222","labelOffset":9,"columnPadding":12,"padding":0}}}}
]
},
{
"width":297,"height":218.5,
"data":{"name":"paths"},
"title":{"text":"95% confidence intervals","fontSize":12.3,"fontWeight":"normal","color":"#222","dx":-40,"offset":-2},
"resolve":{"scale":{"y":"independent"},"axis":{"y":"independent"}},
"layer":[
{"transform":[{"filter":"datum.i%2==1"}],"mark":{"type":"rect","color":"#EFEFEF"},"encoding":{"y":{"field":"pathway","type":"nominal","scale":{"domain":["Excretory system","Signal transduction","Cell motility","Digestive system","Metabolism of terpenoids and polyketides","Endocrine system","Glycan biosynthesis and metabolism","Lipid metabolism","Metabolism of cofactors and vitamins","Cancers: Overview","Transport and catabolism"],"paddingInner":0,"paddingOuter":0.25},"axis":null}}},
{"mark":{"type":"rule","color":"#999","strokeDash":[6,4],"strokeWidth":1.5},"encoding":{"x":{"datum":0,"type":"quantitative"}}},
{"encoding":{"y":{"field":"pathway","type":"nominal","scale":{"domain":["Excretory system","Signal transduction","Cell motility","Digestive system","Metabolism of terpenoids and polyketides","Endocrine system","Glycan biosynthesis and metabolism","Lipid metabolism","Metabolism of cofactors and vitamins","Cancers: Overview","Transport and catabolism"],"paddingInner":0,"paddingOuter":0.25},"axis":null}},
"layer":[
{"mark":{"type":"rule","color":"#333","strokeWidth":1.4},"encoding":{"x":{"field":"lo","type":"quantitative","scale":{"domain":[-1.676,2.571],"nice":false,"zero":false},"axis":{"values":[-1,0,1,2],"format":"d","labelFlush":false,"title":"Difference between proportions (%)","titleX":171,"titleFontWeight":"normal","titleFontSize":12.3,"titleColor":"#222","titlePadding":5,"labelFontSize":12.3,"labelColor":"#222","domainColor":"#777","tickColor":"#777","tickSize":3,"labelPadding":2,"grid":false}},"x2":{"field":"hi"}}},
{"mark":{"type":"tick","color":"#333","thickness":1.4,"size":8},"encoding":{"x":{"field":"lo","type":"quantitative"}}},
{"mark":{"type":"tick","color":"#333","thickness":1.4,"size":8},"encoding":{"x":{"field":"hi","type":"quantitative"}}},
{"mark":{"type":"point","filled":true,"size":95,"stroke":"#333","strokeWidth":1,"opacity":1},"encoding":{"x":{"field":"diff","type":"quantitative"},"fill":{"condition":{"test":"datum.diff>0","value":"#74ADD1"},"value":"#BEBADA"}}}
]},
{"mark":{"type":"tick","opacity":0},"encoding":{"y":{"field":"p","type":"nominal","scale":{"domain":["1.53e-03","1.61e-03","1.71e-03","2.30e-03","3.29e-03","5.73e-03","7.69e-03","1.63e-02","2.22e-02","4.78e-02","4.81e-02"],"paddingInner":0,"paddingOuter":0.25},"axis":{"orient":"right","ticks":false,"domain":false,"labelFontSize":13,"labelColor":"#222","labelPadding":2,"title":"p-value (corrected)","titleFontWeight":"normal","titleFontSize":12.3,"titleColor":"#222","titleAngle":270,"titleBaseline":"top","titlePadding":6}}}}
]
}
]
}
]
}
